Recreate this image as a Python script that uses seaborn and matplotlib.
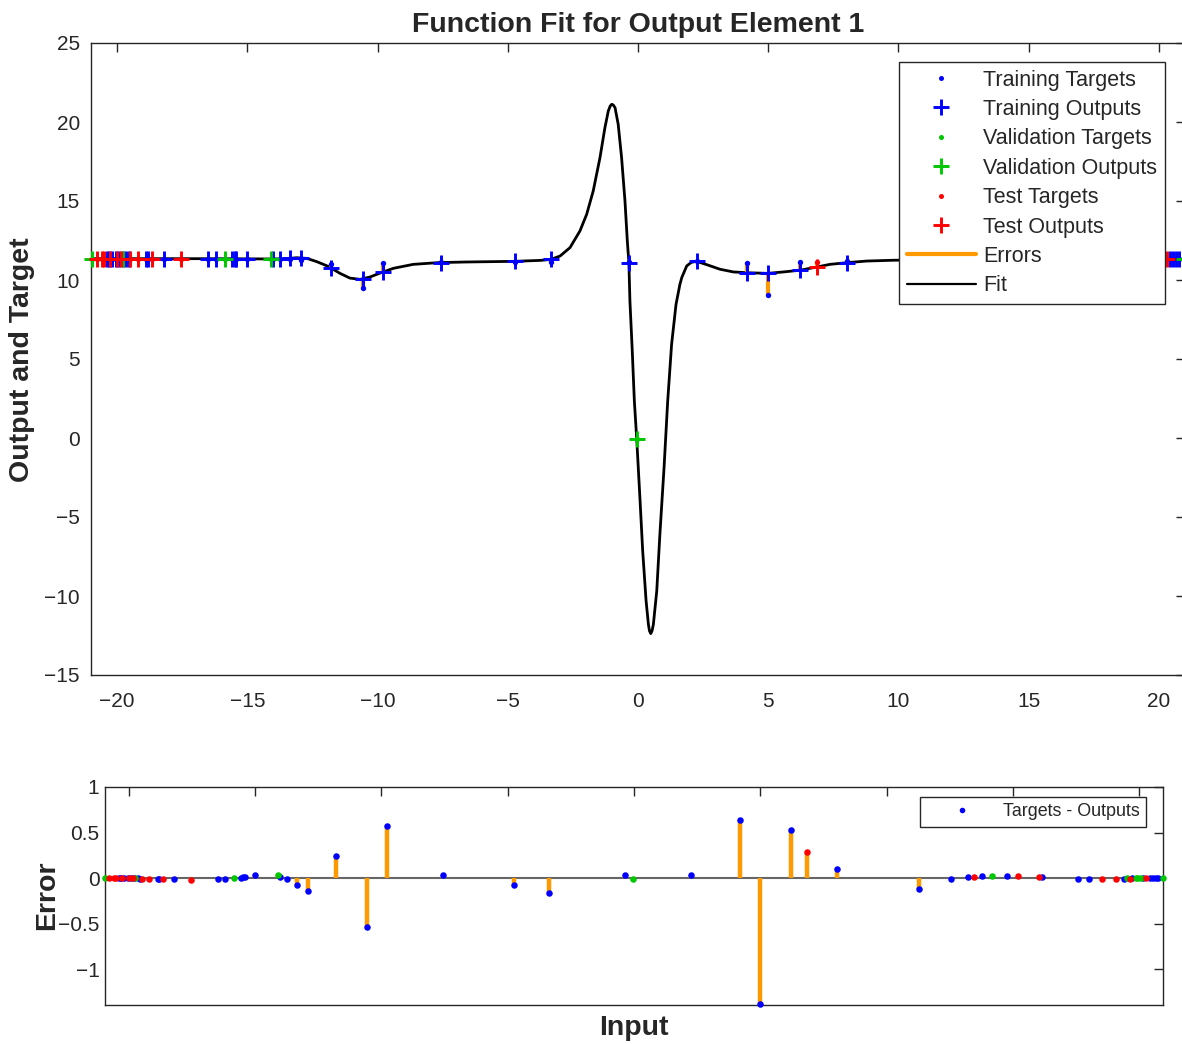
import matplotlib
matplotlib.use("Agg")
import matplotlib.pyplot as plt
from matplotlib.lines import Line2D
import numpy as np
import pandas as pd
import seaborn as sns

# ---- fitted network response (input -> output) ----
fit_x = [-21.0, -17.0, -15.0, -14.0, -13.6, -13.1, -12.72, -12.33, -11.89, -11.44,
         -11.06, -10.67, -10.29, -9.90, -9.39, -8.63, -7.67, -6.58, -4.79, -3.76,
         -3.35, -2.99, -2.61, -2.23, -1.97, -1.72, -1.46, -1.27, -1.14, -1.07,
         -1.01, -0.95, -0.88, -0.76, -0.63, -0.50, -0.41, -0.35, -0.31, -0.22,
         -0.14, -0.05, 0.08, 0.18, 0.31, 0.40, 0.44, 0.49, 0.54, 0.59,
         0.72, 0.84, 1.00, 1.14, 1.29, 1.46, 1.61, 1.68, 1.87, 2.05,
         2.25, 2.64, 3.15, 3.66, 4.20, 4.98, 5.58, 6.23, 6.86, 7.37,
         8.04, 8.78, 9.80, 12.0, 16.0, 21.0]
fit_y = [11.35, 11.35, 11.34, 11.33, 11.34, 11.41, 11.37, 11.16, 10.86, 10.42,
         10.12, 10.04, 10.19, 10.44, 10.74, 10.99, 11.10, 11.14, 11.18, 11.24,
         11.30, 11.52, 12.05, 13.10, 14.16, 15.63, 17.74, 19.64, 20.70, 21.00,
         21.12, 21.08, 20.90, 19.85, 17.74, 15.00, 12.47, 11.10, 8.67, 5.50,
         2.34, -0.04, -3.99, -7.15, -10.30, -11.80, -12.20, -12.38, -12.20, -11.80,
         -9.68, -6.10, -1.88, 2.34, 5.93, 8.46, 9.73, 10.15, 10.89, 11.12,
         11.18, 10.97, 10.68, 10.51, 10.46, 10.42, 10.51, 10.62, 10.82, 10.99,
         11.10, 11.20, 11.25, 11.30, 11.31, 11.31]

# ---- training samples ----
train_x = [-20.38, -20.32, -20.19, -20.05, -19.92, -19.79, -19.66, -19.55, -18.87, -18.80,
           -18.21, -16.49, -16.21, -15.57, -15.49, -15.42, -15.01, -14.02, -13.73, -13.36,
           -12.92, -11.79, -10.57, -9.79, -7.55, -4.74, -3.35, -0.35, 2.25, 4.20,
           4.98, 6.23, 8.04, 11.28, 12.57, 13.23, 13.78, 14.78, 16.15, 17.60,
           18.00, 19.41, 19.74, 20.17, 20.42, 20.55, 20.66, 20.76]
train_out = [11.35, 11.35, 11.35, 11.35, 11.35, 11.35, 11.35, 11.35, 11.35, 11.35,
             11.35, 11.35, 11.35, 11.34, 11.34, 11.34, 11.33, 11.33, 11.35, 11.39,
             11.40, 10.78, 10.05, 10.50, 11.10, 11.18, 11.30, 11.10, 11.18, 10.46,
             10.42, 10.62, 11.10, 11.30, 11.31, 11.31, 11.31, 11.31, 11.31, 11.31,
             11.31, 11.31, 11.31, 11.31, 11.31, 11.31, 11.31, 11.31]
train_tgt = [11.355, 11.350, 11.355, 11.350, 11.350, 11.355, 11.350, 11.345, 11.345, 11.345,
             11.340, 11.340, 11.340, 11.340, 11.350, 11.355, 11.360, 11.340, 11.345, 11.320,
             11.265, 11.020, 9.515, 11.070, 11.140, 11.110, 11.140, 11.130, 11.210, 11.100,
             9.040, 11.150, 11.205, 11.180, 11.300, 11.320, 11.330, 11.330, 11.320, 11.305,
             11.305, 11.305, 11.310, 11.315, 11.315, 11.310, 11.310, 11.310]

# ---- validation samples ----
val_x = [-20.95, -19.76, -15.85, -14.10, -0.05, 14.19, 19.54, 19.87, 19.97, 20.07, 20.95]
val_out = [11.35, 11.35, 11.35, 11.32, -0.04, 11.31, 11.31, 11.31, 11.31, 11.31, 11.31]
val_tgt = [11.350, 11.350, 11.355, 11.350, -0.045, 11.330, 11.310, 11.315, 11.315, 11.315, 11.310]

# ---- test samples ----
test_x = [-20.78, -20.58, -20.52, -20.26, -19.99, -19.85, -19.50, -19.20, -18.67, -17.55,
          6.86, 13.45, 15.19, 16.05, 18.52, 19.10, 19.63, 20.29]
test_out = [11.35, 11.35, 11.35, 11.35, 11.35, 11.35, 11.35, 11.35, 11.35, 11.35,
            10.82, 11.31, 11.31, 11.31, 11.31, 11.31, 11.31, 11.31]
test_tgt = [11.350, 11.350, 11.350, 11.350, 11.350, 11.350, 11.340, 11.340, 11.340, 11.330,
            11.110, 11.320, 11.330, 11.320, 11.305, 11.305, 11.305, 11.315]

BLUE = (0.0, 0.0, 1.0)
GREEN = (0.0, 0.78, 0.0)
RED = (1.0, 0.0, 0.0)
ORANGE = (1.0, 0.6, 0.0)
AXC = "#262626"

sns.set_style("white")
plt.rcParams["font.family"] = ["Liberation Sans", "DejaVu Sans"]
plt.rcParams["axes.unicode_minus"] = True
plt.rcParams["axes.edgecolor"] = AXC
plt.rcParams["axes.linewidth"] = 1.0

sets = [
    ("Training", train_x, train_out, train_tgt, BLUE),
    ("Validation", val_x, val_out, val_tgt, GREEN),
    ("Test", test_x, test_out, test_tgt, RED),
]

fig = plt.figure(figsize=(11.82, 10.44), dpi=100)
W, H = 1182.0, 1044.0
ax = fig.add_axes([91 / W, 1 - 675 / H, (1185 - 91) / W, (675 - 43) / H])
axe = fig.add_axes([105 / W, 1 - 1005 / H, (1163 - 105) / W, (1005 - 787) / H])

# ---- upper panel: fit, targets, outputs and errors ----
fit_df = pd.DataFrame({"x": fit_x, "y": fit_y})
sns.lineplot(data=fit_df, x="x", y="y", color="black", lw=2.0, ax=ax,
             zorder=2, solid_joinstyle="round")

for name, xs, outs, tgts, col in sets:
    ax.vlines(xs, outs, tgts, color=ORANGE, lw=3.0, zorder=3)
for name, xs, outs, tgts, col in sets:
    sns.scatterplot(x=xs, y=tgts, color=col, s=15, linewidth=0, marker="o",
                    ax=ax, zorder=4, clip_on=False, legend=False)
for name, xs, outs, tgts, col in sets:
    ax.plot(xs, outs, linestyle="none", marker="+", markersize=11, mew=2.1,
            color=col, zorder=5, clip_on=False)

ax.set_xlim(-21.0, 21.0)
ax.set_ylim(-15, 25)
ax.set_xticks(np.arange(-20, 21, 5))
ax.set_yticks(np.arange(-15, 26, 5))
ax.tick_params(direction="in", top=True, right=True, length=6.5, width=1.0,
               labelsize=15, colors=AXC, labelcolor="#262626")
ax.tick_params(axis="x", pad=12)
ax.tick_params(axis="y", pad=8)
ax.set_xlabel("")
ax.set_ylabel("Output and Target", fontsize=20.5, fontweight="bold")
ax.yaxis.set_label_coords(-(91 - 22) / 1094.0, (675 - 360) / 632.0)
ax.yaxis.label.set_va("center")
ax.set_title("Function Fit for Output Element 1", fontsize=20.5,
             fontweight="bold", pad=8)

handles = [
    Line2D([], [], ls="none", marker="o", ms=3.6, mew=0, color=BLUE),
    Line2D([], [], ls="none", marker="+", ms=11, mew=2.1, color=BLUE),
    Line2D([], [], ls="none", marker="o", ms=3.6, mew=0, color=GREEN),
    Line2D([], [], ls="none", marker="+", ms=11, mew=2.1, color=GREEN),
    Line2D([], [], ls="none", marker="o", ms=3.6, mew=0, color=RED),
    Line2D([], [], ls="none", marker="+", ms=11, mew=2.1, color=RED),
    Line2D([], [], color=ORANGE, lw=3.0),
    Line2D([], [], color="black", lw=1.6),
]
labels = ["Training Targets", "Training Outputs", "Validation Targets",
          "Validation Outputs", "Test Targets", "Test Outputs", "Errors", "Fit"]
leg = ax.legend(handles, labels, loc="upper right",
                bbox_to_anchor=(1165 / W, 1 - 62 / H), bbox_transform=fig.transFigure,
                fontsize=15.5, handlelength=3.2, handletextpad=0.37, labelspacing=0.39,
                borderpad=0.35, borderaxespad=0, fancybox=False, framealpha=1,
                edgecolor="#262626")
leg.get_frame().set_linewidth(1.0)
leg.set_zorder(10)

# ---- lower panel: errors ----
axe.axhline(0, color=(0.4, 0.4, 0.4), lw=1.5, zorder=1)
for name, xs, outs, tgts, col in sets:
    err = np.array(tgts) - np.array(outs)
    axe.vlines(xs, 0, err, color=ORANGE, lw=3.2, zorder=2)
for name, xs, outs, tgts, col in sets:
    err = np.array(tgts) - np.array(outs)
    sns.scatterplot(x=xs, y=err, color=col, s=22, linewidth=0, marker="o",
                    ax=axe, zorder=3, clip_on=False, legend=False)

axe.set_xlim(-20.95, 20.95)
axe.set_ylim(-1.39, 1.0)
axe.set_xticks(np.arange(-20, 21, 5))
axe.set_xticklabels([])
axe.set_yticks([-1, -0.5, 0, 0.5, 1])
axe.set_yticklabels(["\u22121", "\u22120.5", "0", "0.5", "1"])
axe.tick_params(direction="in", top=True, right=True, length=6.5, width=1.0,
                labelsize=15, colors=AXC, labelcolor="#262626")
axe.tick_params(axis="y", pad=4)
axe.set_xlabel("Input", fontsize=20.5, fontweight="bold")
axe.xaxis.set_label_coords(0.5, -(1028 - 1005) / 218.0)
axe.xaxis.label.set_va("center")
axe.set_ylabel("Error", fontsize=20.5, fontweight="bold")
axe.yaxis.set_label_coords(-(105 - 47) / 1058.0, (1005 - 895) / 218.0)
axe.yaxis.label.set_va("center")

leg2 = axe.legend([Line2D([], [], ls="none", marker="o", ms=4, mew=0, color=BLUE)],
                  ["Targets - Outputs"], loc="upper right",
                  bbox_to_anchor=(1146 / W, 1 - 797 / H), bbox_transform=fig.transFigure,
                  fontsize=12.9, handlelength=4.0, handletextpad=0.3,
                  borderpad=0.35, borderaxespad=0, fancybox=False, framealpha=1,
                  edgecolor="#262626")
leg2.get_frame().set_linewidth(1.0)

fig.savefig("out.png", dpi=100)
